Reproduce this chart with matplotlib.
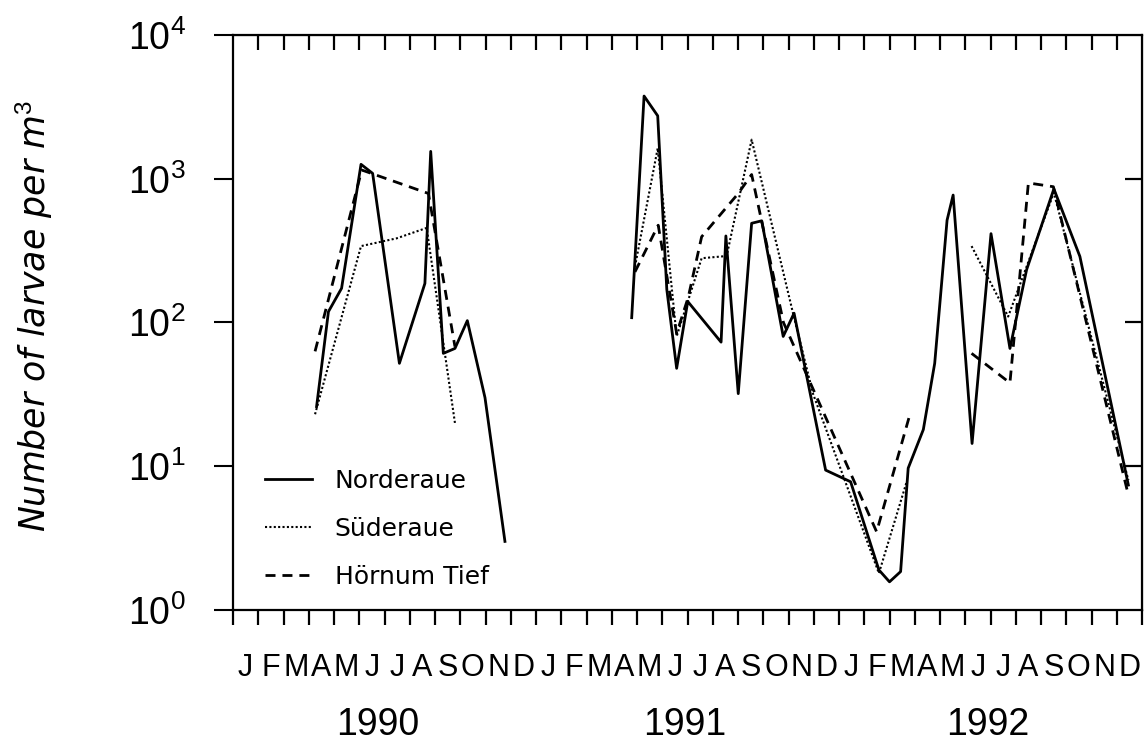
import matplotlib
matplotlib.use("Agg")
import matplotlib.pyplot as plt
import matplotlib.transforms as mtransforms
from matplotlib.ticker import NullLocator

plt.rcParams["mathtext.fontset"] = "custom"
plt.rcParams["mathtext.rm"] = "Liberation Sans"
plt.rcParams["mathtext.it"] = "Liberation Sans:italic"
plt.rcParams["mathtext.bf"] = "Liberation Sans:bold"

# months counted from 1 Jan 1990
# Norderaue
nord_90_x = [3.31, 3.78, 4.30, 5.07, 5.53, 6.59, 7.60, 7.83, 8.33, 8.79, 9.28, 9.98, 10.77]
nord_90_y = [26, 119, 173, 1260, 1090, 52, 187, 1550, 61, 66, 103, 30, 3.0]
nord_91_x = [15.79, 16.28, 16.82, 17.18, 17.57, 18.01, 19.33, 19.52, 20.01, 20.54, 20.94,
             21.79, 22.22, 23.47, 24.46, 25.58, 26.00, 26.44, 26.74, 27.34, 27.79, 28.28,
             28.52, 29.27, 30.02, 30.77, 31.43, 32.51, 33.54, 35.46]
nord_91_y = [108, 3760, 2740, 170, 48, 140, 73, 400, 32, 490, 510,
             80, 116, 9.4, 7.8, 1.9, 1.57, 1.85, 9.7, 18, 52, 515,
             770, 14.4, 415, 66, 233, 850, 288, 7.4]

# Süderaue
sud_90_x = [3.25, 5.07, 6.48, 7.67, 8.79]
sud_90_y = [23, 340, 385, 455, 20]
sud_91_x = [15.92, 16.82, 17.57, 18.56, 19.55, 20.54, 22.20, 22.97, 25.58, 26.68]
sud_91_y = [245, 1630, 80, 280, 290, 1870, 112, 32, 1.8, 7.8]
sud_92_x = [29.25, 30.70, 32.51, 35.46]
sud_92_y = [340, 110, 800, 8]

# Hörnum Tief
hoe_90_x = [3.25, 5.10, 7.74, 8.79]
hoe_90_y = [63, 1150, 790, 68]
hoe_91_x = [15.92, 16.84, 17.57, 18.03, 18.56, 20.01, 20.54, 21.80, 25.49, 26.81]
hoe_91_y = [225, 475, 84, 150, 395, 790, 1070, 100, 3.5, 23]
hoe_92_x = [29.25, 30.77, 31.50, 32.49, 35.46]
hoe_92_y = [61, 38, 935, 880, 6.3]

months = list("JFMAMJJASOND") * 3
years = ["1990", "1991", "1992"]
year_pos = [5.75, 17.9, 29.9]
decades = [1, 10, 100, 1000, 10000]
decade_labels = [r"$10^{0}$", r"$10^{1}$", r"$10^{2}$", r"$10^{3}$", r"$10^{4}$"]

fig = plt.figure(figsize=(11.44, 7.47), dpi=100)
ax = fig.add_axes([233 / 1144, 137 / 747, 909 / 1144, 575 / 747])

solid = dict(color="black", lw=2.0, ls="-")
dotted = dict(color="black", lw=1.5, ls=(0, (1, 1.1)))
dashed = dict(color="black", lw=2.0, ls=(0, (3.6, 2.5)))

ax.plot(nord_90_x, nord_90_y, label="Norderaue", **solid)
ax.plot(nord_91_x, nord_91_y, **solid)
ax.plot(sud_90_x, sud_90_y, label="Süderaue", **dotted)
ax.plot(sud_91_x, sud_91_y, **dotted)
ax.plot(sud_92_x, sud_92_y, **dotted)
ax.plot(hoe_90_x, hoe_90_y, label="Hörnum Tief", **dashed)
ax.plot(hoe_91_x, hoe_91_y, **dashed)
ax.plot(hoe_92_x, hoe_92_y, **dashed)

ax.set_yscale("log")
ax.set_ylim(1, 1e4)
ax.set_xlim(0, 36)

for s in ax.spines.values():
    s.set_linewidth(1.6)

# y axis
ax.set_yticks(decades)
ax.set_yticklabels(decade_labels, fontsize=27)
ax.yaxis.set_minor_locator(NullLocator())
ax.tick_params(axis="y", which="major", direction="out", length=14, width=1.5, pad=20)

# x axis: ticks at month borders, letters centred in the months
ax.set_xticks(range(37))
ax.set_xticklabels([])
ax.set_xticks([i + 0.5 for i in range(36)], minor=True)
ax.set_xticklabels(months, minor=True, fontsize=22,
                   family=["Liberation Sans Narrow", "Liberation Sans"])
ax.tick_params(axis="x", which="major", direction="out", length=11, width=1.6)
ax.tick_params(axis="x", which="minor", length=0, pad=31)

top = ax.secondary_xaxis("top")
top.set_xticks(range(1, 36))
top.set_xticklabels([])
top.tick_params(direction="in", length=11, width=1.6)

right = ax.secondary_yaxis("right")
right.set_yticks([10, 100, 1000])
right.set_yticklabels([])
right.yaxis.set_minor_locator(NullLocator())
right.tick_params(direction="in", length=12, width=1.6)

trans = mtransforms.blended_transform_factory(ax.transData, ax.transAxes)
for yr, xp in zip(years, year_pos):
    ax.text(xp, -0.2, yr, transform=trans, ha="center", va="center",
            fontsize=27, family="Liberation Sans")

ax.text(-0.219, 0.511, "Number of larvae per m$^{3}$", transform=ax.transAxes,
        rotation=90, ha="center", va="center", fontsize=25, style="italic",
        family="DejaVu Sans")

ax.legend(loc="upper left", bbox_to_anchor=(0.035, 0.245), frameon=False,
          prop={"family": "DejaVu Sans", "size": 18}, handlelength=1.9,
          handletextpad=0.9, labelspacing=0.95, borderpad=0, borderaxespad=0)

fig.savefig("out.png", dpi=100)
